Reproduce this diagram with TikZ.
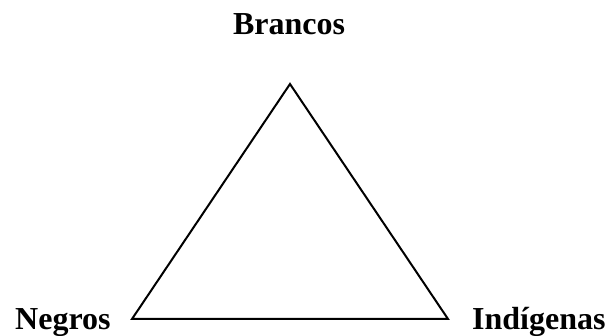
\documentclass[tikz,border=0pt]{standalone}
\usepackage{fontspec}
\setmainfont{Liberation Serif}
\begin{document}
\begin{tikzpicture}[x=1pt, y=1pt,
    grupo/.style={inner sep=0pt, font=\fontsize{32}{36}\selectfont\bfseries}]
    \useasboundingbox (0,0) rectangle (606,336);
    % Triangle corners
    \coordinate (topo) at (290,252);
    \coordinate (esq) at (132,17);
    \coordinate (dir) at (448,17);
    % Triangle
    \draw[line width=2pt, line join=miter] (topo) -- (esq) -- (dir) -- cycle;
    % Labels
    \node[grupo, anchor=base] (brancos) at (289,301) {Brancos};
    \node[grupo, anchor=base west] (negros) at (15,6) {Negros};
    \node[grupo, anchor=base west] (indigenas) at (472,6) {Indígenas};
\end{tikzpicture}
\end{document}
